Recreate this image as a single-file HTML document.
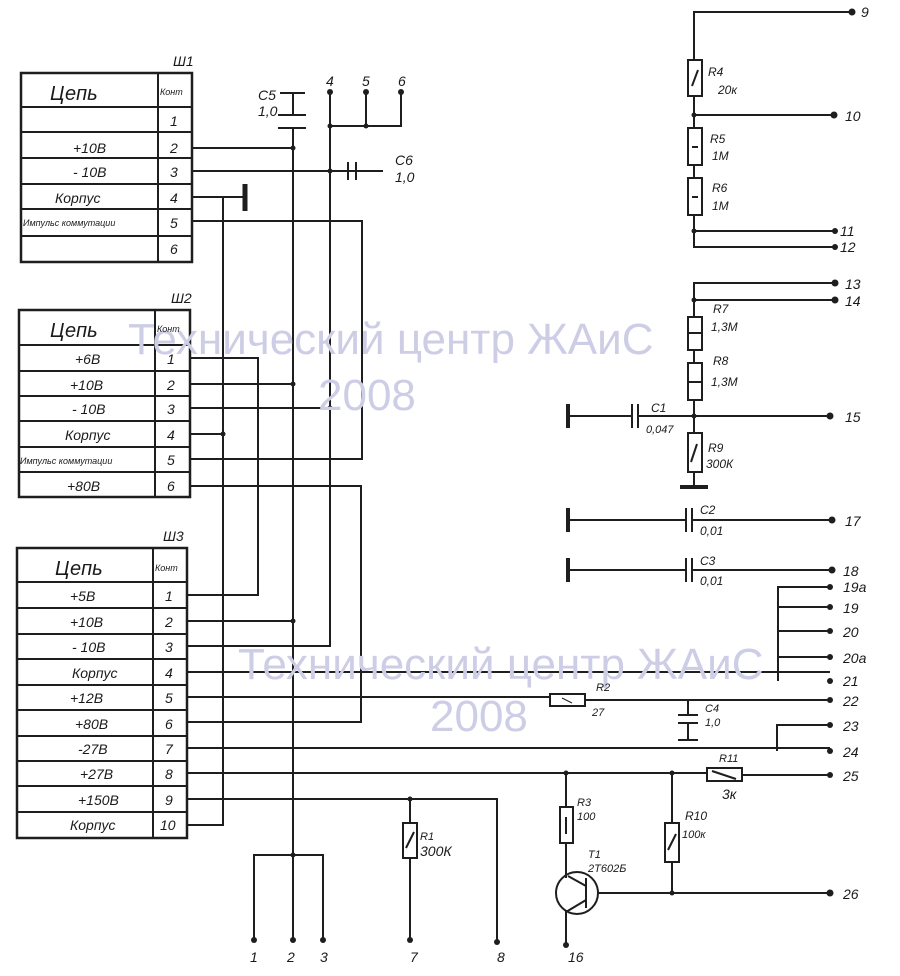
<!DOCTYPE html>
<html><head><meta charset="utf-8"><style>
html,body{margin:0;padding:0;background:#fff;}
svg{display:block;}
text{font-family:"Liberation Sans","DejaVu Sans",sans-serif;font-style:italic;fill:#1a1a1a;}
.wm{font-style:normal;fill:#cdcde6;font-size:44px;}
</style></head><body>
<svg width="900" height="976" viewBox="0 0 900 976" xmlns="http://www.w3.org/2000/svg">
<g fill="none" stroke="#1e1e1e" stroke-width="2">
<rect x="21" y="73" width="171" height="189" stroke-width="2.5"/>
<line x1="158" y1="73" x2="158" y2="262"/>
<path d="M21 107H192M21 132H192M21 158H192M21 184H192M21 209H192M21 236H192"/>
<rect x="19" y="310" width="171" height="187" stroke-width="2.5"/>
<line x1="155" y1="310" x2="155" y2="497"/>
<path d="M19 345H190M19 371H190M19 396H190M19 421H190M19 447H190M19 472H190"/>
<rect x="17" y="548" width="170" height="290" stroke-width="2.5"/>
<line x1="153" y1="548" x2="153" y2="838"/>
<path d="M17 582H187M17 608H187M17 634H187M17 659H187M17 685H187M17 710H187M17 736H187M17 761H187M17 786H187M17 812H187"/>

<path d="M192 148H293M192 171H383M192 197H245M192 221H362V459H190"/>
<line x1="245" y1="184" x2="245" y2="211" stroke-width="5"/>
<path d="M223 197V825H187M190 434H223M187 672H830"/>
<path d="M190 358H258V595H187"/>
<path d="M293 93V115M293 128V940M190 384H293M187 621H293"/>
<path d="M280 93H305M278 115H306M278 128H306"/>
<path d="M330 92V646H187M190 408H330M330 126H401V92M366 92V126"/>
<path d="M348 162V180M356 162V180"/>
<path d="M190 486H361V722H187"/>
<path d="M254 940V855H323V940"/>
<path d="M187 697H550M585 700H830"/>
<rect x="550" y="694" width="35" height="12"/>
<line x1="562" y1="698" x2="572" y2="703" stroke-width="1"/>
<path d="M688 700V715M678 715H698M678 723H698M688 723V740M678 740H698"/>
<path d="M187 748H830M777 751V725H830"/>
<path d="M187 773H707M742 775H830"/>
<rect x="707" y="768" width="35" height="13"/>
<line x1="712" y1="771" x2="736" y2="779"/>
<path d="M566 773V807M566 843V878"/>
<rect x="560" y="807" width="13" height="36"/>
<line x1="566" y1="817" x2="566" y2="834"/>
<circle cx="577" cy="893" r="21"/>
<path d="M586 878V908M586 886L568 876M586 900L566 912V945M598 893H830"/>
<path d="M672 773V823M672 862V893"/>
<rect x="665" y="823" width="14" height="39"/>
<line x1="668" y1="850" x2="676" y2="834"/>
<path d="M187 799H497V942M410 799V823M410 858V940"/>
<rect x="403" y="823" width="14" height="35"/>
<line x1="406" y1="848" x2="414" y2="832"/>
<path d="M778 681V587H830M778 607H830M778 631H830M778 657H830"/>
<path d="M568 520H686M692 520H832M568 570H686M692 570H832"/>
<path d="M686 508V532M692 508V532M686 558V582M692 558V582"/>
<line x1="568" y1="508" x2="568" y2="532" stroke-width="4"/>
<line x1="568" y1="558" x2="568" y2="582" stroke-width="4"/>
<path d="M852 12H694V60M694 96V128M694 165V178M694 215V247H835M694 231H835M694 115H834"/>
<rect x="688" y="60" width="14" height="36"/>
<line x1="692" y1="86" x2="698" y2="70"/>
<rect x="688" y="128" width="14" height="37"/>
<line x1="692" y1="147" x2="698" y2="147"/>
<rect x="688" y="178" width="14" height="37"/>
<line x1="692" y1="197" x2="698" y2="197"/>
<path d="M835 283H694V317M694 300H835M694 350V363M694 400V433M694 472V487M568 416H632M638 416H830"/>
<rect x="688" y="317" width="14" height="33"/>
<line x1="688" y1="333" x2="702" y2="333"/>
<rect x="688" y="363" width="14" height="37"/>
<line x1="688" y1="382" x2="702" y2="382"/>
<rect x="688" y="433" width="14" height="39"/>
<line x1="691" y1="462" x2="697" y2="444"/>
<path d="M632 404V428M638 404V428"/>
<line x1="568" y1="404" x2="568" y2="428" stroke-width="4"/>
<line x1="680" y1="487" x2="708" y2="487" stroke-width="4"/>
</g>
<g fill="#1e1e1e">
<circle cx="293" cy="148" r="2.5"/><circle cx="330" cy="171" r="2.5"/><circle cx="293" cy="384" r="2.5"/>
<circle cx="330" cy="408" r="2.5"/><circle cx="223" cy="434" r="2.5"/><circle cx="293" cy="621" r="2.5"/>
<circle cx="330" cy="126" r="2.5"/><circle cx="366" cy="126" r="2.5"/>
<circle cx="330" cy="92" r="3"/><circle cx="366" cy="92" r="3"/><circle cx="401" cy="92" r="3"/>
<circle cx="254" cy="940" r="3"/><circle cx="293" cy="940" r="3"/><circle cx="323" cy="940" r="3"/>
<circle cx="410" cy="940" r="3"/><circle cx="497" cy="942" r="3"/><circle cx="566" cy="945" r="3"/>
<circle cx="293" cy="855" r="2.5"/><circle cx="410" cy="799" r="2.5"/><circle cx="566" cy="773" r="2.5"/>
<circle cx="672" cy="773" r="2.5"/><circle cx="672" cy="893" r="2.5"/>
<circle cx="694" cy="115" r="2.5"/><circle cx="694" cy="231" r="2.5"/><circle cx="694" cy="300" r="2.5"/><circle cx="694" cy="416" r="2.5"/>
<circle cx="852" cy="12" r="3.5"/><circle cx="834" cy="115" r="3.5"/><circle cx="835" cy="231" r="3"/><circle cx="835" cy="247" r="3"/>
<circle cx="835" cy="283" r="3.5"/><circle cx="835" cy="300" r="3.5"/><circle cx="830" cy="416" r="3.5"/>
<circle cx="832" cy="520" r="3.5"/><circle cx="832" cy="570" r="3.5"/><circle cx="830" cy="587" r="3"/>
<circle cx="830" cy="607" r="3"/><circle cx="830" cy="631" r="3"/><circle cx="830" cy="657" r="3"/><circle cx="830" cy="681" r="3"/>
<circle cx="830" cy="700" r="3"/><circle cx="830" cy="725" r="3"/><circle cx="830" cy="751" r="3"/><circle cx="830" cy="775" r="3"/><circle cx="830" cy="893" r="3.5"/>
</g>
<text class="wm" x="128" y="354">Технический центр ЖАиС</text>
<text class="wm" x="318" y="410">2008</text>
<text class="wm" x="238" y="679">Технический центр ЖАиС</text>
<text class="wm" x="430" y="731">2008</text>
<g font-size="14">
<text x="173" y="66">Ш1</text><text x="171" y="303">Ш2</text><text x="163" y="541">Ш3</text>
<text x="50" y="100" font-size="20">Цепь</text><text x="160" y="95" font-size="9">Конт</text>
<text x="170" y="126">1</text><text x="170" y="153">2</text><text x="170" y="177">3</text><text x="170" y="203">4</text><text x="170" y="228">5</text><text x="170" y="254">6</text>
<text x="73" y="153">+10В</text><text x="73" y="177">- 10В</text><text x="55" y="203">Корпус</text><text x="23" y="226" font-size="9">Импульс коммутации</text>
<text x="50" y="337" font-size="20">Цепь</text><text x="157" y="332" font-size="9">Конт</text>
<text x="167" y="364">1</text><text x="167" y="390">2</text><text x="167" y="414">3</text><text x="167" y="440">4</text><text x="167" y="465">5</text><text x="167" y="491">6</text>
<text x="75" y="364">+6В</text><text x="70" y="390">+10В</text><text x="72" y="414">- 10В</text><text x="65" y="440">Корпус</text><text x="20" y="464" font-size="9">Импульс коммутации</text><text x="67" y="491">+80В</text>
<text x="55" y="575" font-size="20">Цепь</text><text x="155" y="571" font-size="9">Конт</text>
<text x="165" y="601">1</text><text x="165" y="627">2</text><text x="165" y="652">3</text><text x="165" y="678">4</text><text x="165" y="703">5</text><text x="165" y="729">6</text><text x="165" y="754">7</text><text x="165" y="779">8</text><text x="165" y="805">9</text><text x="160" y="830">10</text>
<text x="70" y="601">+5В</text><text x="70" y="627">+10В</text><text x="72" y="652">- 10В</text><text x="72" y="678">Корпус</text><text x="70" y="703">+12В</text><text x="75" y="729">+80В</text><text x="78" y="754">-27В</text><text x="80" y="779">+27В</text><text x="78" y="805">+150В</text><text x="70" y="830">Корпус</text>
<text x="258" y="100">С5</text><text x="258" y="116">1,0</text>
<text x="326" y="86">4</text><text x="362" y="86">5</text><text x="398" y="86">6</text>
<text x="395" y="165">С6</text><text x="395" y="182">1,0</text>
<text x="250" y="962">1</text><text x="287" y="962">2</text><text x="320" y="962">3</text><text x="410" y="962">7</text><text x="497" y="962">8</text><text x="568" y="962">16</text>
<text x="420" y="840" font-size="11">R1</text><text x="420" y="856">300К</text>
<text x="596" y="691" font-size="11">R2</text><text x="592" y="716" font-size="11">27</text>
<text x="705" y="712" font-size="11">С4</text><text x="705" y="726" font-size="11">1,0</text>
<text x="577" y="806" font-size="11">R3</text><text x="577" y="820" font-size="11">100</text>
<text x="588" y="858" font-size="11">Т1</text><text x="588" y="872" font-size="11">2Т602Б</text>
<text x="685" y="820" font-size="12">R10</text><text x="682" y="838" font-size="11">100к</text>
<text x="719" y="762" font-size="11">R11</text><text x="722" y="799">3к</text>
<text x="708" y="76" font-size="12">R4</text><text x="718" y="94" font-size="12">20к</text>
<text x="710" y="143" font-size="12">R5</text><text x="712" y="160" font-size="12">1М</text>
<text x="712" y="192" font-size="12">R6</text><text x="712" y="210" font-size="12">1М</text>
<text x="713" y="313" font-size="12">R7</text><text x="711" y="331" font-size="12">1,3М</text>
<text x="713" y="365" font-size="12">R8</text><text x="711" y="386" font-size="12">1,3М</text>
<text x="651" y="412" font-size="12">С1</text><text x="646" y="433" font-size="11">0,047</text>
<text x="708" y="452" font-size="12">R9</text><text x="706" y="468" font-size="12">300К</text>
<text x="700" y="514" font-size="12">С2</text><text x="700" y="535" font-size="12">0,01</text>
<text x="700" y="565" font-size="12">С3</text><text x="700" y="585" font-size="12">0,01</text>
<text x="861" y="17">9</text><text x="845" y="121">10</text><text x="840" y="236">11</text><text x="840" y="252">12</text>
<text x="845" y="289">13</text><text x="845" y="306">14</text><text x="845" y="422">15</text><text x="845" y="526">17</text>
<text x="843" y="576">18</text><text x="843" y="592">19а</text><text x="843" y="613">19</text><text x="843" y="637">20</text><text x="843" y="663">20а</text><text x="843" y="686">21</text><text x="843" y="706">22</text><text x="843" y="731">23</text><text x="843" y="757">24</text><text x="843" y="781">25</text><text x="843" y="899">26</text>
</g>
</svg>
</body></html>
